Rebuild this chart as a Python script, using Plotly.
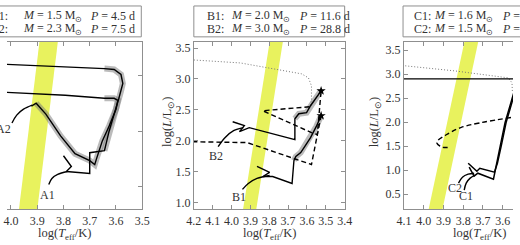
import plotly.graph_objects as go

W, H = 520, 245

# instability strip edges (same strip drawn in every panel)
strip_logL = [0.0, 4.0]
strip_blue = [3.985, 3.777]
strip_red = [3.915, 3.707]

# ---- panel A ----
a1_logT = [4.089, 3.793, 3.644, 3.607, 3.581, 3.574, 3.581, 3.589, 3.607, 3.626, 3.644, 3.700, 3.700, 3.789, 3.770, 3.800]
a1_logL = [1.605, 1.578, 1.560, 1.552, 1.507, 1.427, 1.356, 1.294, 1.152, 1.001, 0.824, 0.806, 0.620, 0.637, 0.682, 0.779]
a2_logT = [4.089, 3.793, 3.644, 3.607, 3.593, 3.600, 3.626, 3.652, 3.674, 3.681, 3.700, 3.756, 3.811, 3.867, 3.904, 3.922]
a2_logL = [1.356, 1.321, 1.294, 1.294, 1.276, 1.196, 1.046, 0.912, 0.753, 0.699, 0.735, 0.797, 0.957, 1.152, 1.250, 1.223]
a1_call_T = [3.856, 3.844, 3.822, 3.785]
a1_call_L = [0.522, 0.575, 0.611, 0.637]
a2_call_T = [3.996, 3.978, 3.952, 3.919]
a2_call_L = [1.072, 1.143, 1.196, 1.232]

# ---- panel B ----
b_dot_T = [4.2, 3.953, 3.628, 3.592, 3.576, 3.576, 3.587]
b_dot_L = [3.306, 3.258, 3.081, 3.016, 2.887, 2.645, 2.516]
b2_T = [3.994, 3.932, 3.958, 3.906, 3.664, 3.664, 3.643, 3.602, 3.581, 3.551, 3.525]
b2_L = [2.306, 2.242, 2.145, 2.210, 2.016, 2.355, 2.435, 2.452, 2.565, 2.694, 2.806]
b1_T = [3.865, 3.798, 3.834, 3.782, 3.679, 3.669, 3.659, 3.633, 3.612, 3.581, 3.551, 3.525]
b1_L = [1.581, 1.484, 1.419, 1.419, 1.306, 1.677, 1.742, 1.806, 1.903, 2.048, 2.226, 2.403]
b1_dash_T = [4.25, 3.917, 3.576, 3.525]
b1_dash_L = [1.984, 1.968, 1.613, 2.403]
b2_dash_T = [3.587, 3.834, 3.576, 3.545, 3.525]
b2_dash_L = [2.548, 2.484, 2.129, 2.097, 2.806]
b_star_T = [3.525, 3.525]
b_star_L = [2.806, 2.403]
b2_call_T = [4.071, 4.035, 3.989, 3.937]
b2_call_L = [1.903, 2.048, 2.161, 2.210]
b1_call_T = [3.942, 3.911, 3.865, 3.798]
b1_call_L = [1.210, 1.306, 1.387, 1.435]

# ---- panel C ----
c_dot_T = [4.139, 3.844, 3.573, 3.553, 3.551]
c_dot_L = [3.190, 3.066, 2.921, 2.818, 2.612]
c_hline_T = [4.15, 3.5]
c_hline_L = [2.90, 2.90]
c1_T = [3.538, 3.563, 3.588, 3.612, 3.632, 3.647, 3.726, 3.745, 3.770]
c1_L = [2.694, 2.343, 1.992, 1.517, 1.145, 0.814, 0.938, 0.876, 1.062]
c2_T = [3.533, 3.558, 3.583, 3.607, 3.627, 3.642, 3.716, 3.731, 3.775]
c2_L = [2.694, 2.343, 1.992, 1.517, 1.145, 0.959, 1.041, 0.979, 1.145]
c_dash_T = [3.558, 3.81, 3.893, 3.928, 3.933, 3.918, 3.903, 3.868]
c_dash_L = [2.095, 1.89, 1.72, 1.62, 1.56, 1.50, 1.475, 1.475]
c2_call_T = [3.824, 3.804, 3.775, 3.745]
c2_call_L = [0.731, 0.855, 0.917, 0.938]
c1_call_T = [3.795, 3.785, 3.765, 3.740]
c1_call_L = [0.587, 0.731, 0.835, 0.897]

# legend box texts
legend_rows = {
    "A": [("A1:", "1.5", "4.5"), ("A2:", "2.3", "7.5")],
    "B": [("B1:", "2.0", "11.6"), ("B2:", "3.0", "28.8")],
    "C": [("C1:", "1.6", ""), ("C2:", "1.5", "")],
}

FONT = dict(family="Liberation Serif", size=12, color="#333333")
FRAME = "#8f8f8f"
GLOW = "rgba(120,120,120,0.5)"

fig = go.Figure()


def line(xs, ys, k, width=1.4, color="black", dash="solid", shape="linear"):
    fig.add_trace(go.Scatter(x=xs, y=ys, xaxis="x" + k, yaxis="y" + k, mode="lines",
                             line=dict(color=color, width=width, dash=dash, shape=shape),
                             hoverinfo="skip"))


# strip in each panel
for k in ["", "2", "3"]:
    fig.add_trace(go.Scatter(x=strip_blue + strip_red[::-1], y=strip_logL + strip_logL[::-1],
                             xaxis="x" + k, yaxis="y" + k, mode="lines", fill="toself",
                             fillcolor="#e8f25e", line=dict(width=0), hoverinfo="skip"))

# panel A
line(a1_logT[2:11], a1_logL[2:11], "", width=6, color=GLOW)
line(a2_logT[2:15], a2_logL[2:15], "", width=6, color=GLOW)
line(a1_logT, a1_logL, "")
line(a2_logT, a2_logL, "")
line(a1_call_T, a1_call_L, "", shape="spline")
line(a2_call_T, a2_call_L, "", shape="spline")

# panel B
line(b_dot_T, b_dot_L, "2", width=1, color="#777777", dash="1px,2px")
line(b2_T[5:], b2_L[5:], "2", width=6, color=GLOW)
line(b1_T[5:], b1_L[5:], "2", width=6, color=GLOW)
line(b2_T, b2_L, "2")
line(b1_T, b1_L, "2")
line(b1_dash_T, b1_dash_L, "2", dash="5px,3px")
line(b2_dash_T, b2_dash_L, "2", dash="5px,3px")
line(b2_call_T, b2_call_L, "2", shape="spline")
line(b1_call_T, b1_call_L, "2", shape="spline")
fig.add_trace(go.Scatter(x=b_star_T, y=b_star_L, xaxis="x2", yaxis="y2", mode="markers",
                         marker=dict(symbol="star", size=7, color="black"), hoverinfo="skip"))

# panel C
line(c_dot_T, c_dot_L, "3", width=1, color="#777777", dash="1px,2px")
line(c_hline_T, c_hline_L, "3")
line(c1_T, c1_L, "3", width=1.5)
line(c2_T, c2_L, "3", width=1.5)
line(c_dash_T, c_dash_L, "3", dash="5px,3px", shape="spline")
line(c2_call_T, c2_call_L, "3", shape="spline")
line(c1_call_T, c1_call_L, "3", shape="spline")

y_dom = [36 / H, 204 / H]
ax_common = dict(ticks="inside", ticklen=4, tickcolor=FRAME, showline=True, linecolor=FRAME,
                 linewidth=1, showgrid=False, zeroline=False, tickfont=FONT)
fig.update_layout(
    width=W, height=H, margin=dict(l=0, r=0, t=0, b=0), showlegend=False,
    plot_bgcolor="white", paper_bgcolor="white", font=FONT,
    xaxis=dict(ax_common, domain=[0, 139 / W], range=[4.015, 3.5], dtick=0.1, tick0=3.5,
               tickformat=".1f", mirror="ticks", anchor="y"),
    yaxis=dict(ax_common, domain=y_dom, range=[0.3, 1.8], side="right", showticklabels=False,
               dtick=0.5, tick0=0, anchor="x"),
    xaxis2=dict(ax_common, domain=[192 / W, 347 / W], range=[4.2, 3.4], dtick=0.1, tick0=3.4,
                tickformat=".1f", mirror="ticks", anchor="y2"),
    yaxis2=dict(ax_common, domain=y_dom, range=[0.89, 3.6], dtick=0.5, tick0=0,
                tickformat=".1f", mirror="ticks", anchor="x2"),
    xaxis3=dict(ax_common, domain=[408 / W, 1], range=[4.1, 3.548], dtick=0.1, tick0=3.5,
                tickformat=".1f", mirror="ticks", anchor="y3"),
    yaxis3=dict(ax_common, domain=y_dom, range=[0.19, 3.67], dtick=0.5, tick0=0,
                tickformat=".1f", anchor="x3"),
)

ann = []
# track labels
ann.append(dict(xref="paper", yref="y", x=6 / W, y=1.019, xanchor="right", text="A2"))
ann.append(dict(xref="x", yref="y", x=3.859, y=0.424, text="A1"))
ann.append(dict(xref="x2", yref="y2", x=4.081, y=1.758, text="B2"))
ann.append(dict(xref="x2", yref="y2", x=3.963, y=1.081, text="B1"))
ann.append(dict(xref="x3", yref="y3", x=3.844, y=0.628, text="C2"))
ann.append(dict(xref="x3", yref="y3", x=3.785, y=0.463, text="C1"))

# axis titles
for xc in [59, 270, 486]:
    ann.append(dict(xref="paper", yref="paper", x=xc / W, y=11 / H, xanchor="center",
                    yanchor="middle", text="log(<i>T</i><sub>eff</sub>/K)",
                    font=dict(FONT, size=12.5)))
for xc in [165, 378]:
    ann.append(dict(xref="paper", yref="paper", x=xc / W, y=(H - 122) / H, xanchor="center",
                    yanchor="middle", textangle=-90, text="log(<i>L</i>/L<sub>⊙</sub>)",
                    font=dict(FONT, size=12.5)))

# legend boxes
boxes = {"A": (-40, 138, 3, 14, 83), "B": (192, 347, 203, 228, 298), "C": (407, 560, 416, 437, 507)}
shapes = []
for key, (x0, x1, xl, xm, xp) in boxes.items():
    shapes.append(dict(type="rect", xref="paper", yref="paper", x0=x0 / W, x1=x1 / W,
                       y0=(H - 36) / H, y1=(H - 5) / H, line=dict(color=FRAME, width=1)))
    for (lab, m, p), yr in zip(legend_rows[key], [15, 28]):
        yy = (H - yr) / H
        ann.append(dict(xref="paper", yref="paper", x=xl / W, y=yy,
                        xanchor="right" if key == "A" else "left", yanchor="middle", text=lab))
        ann.append(dict(xref="paper", yref="paper", x=xm / W, y=yy, xanchor="left",
                        yanchor="middle", text="<i>M</i> = %s M<sub>⊙</sub>" % m))
        ptxt = "<i>P</i> = %s d" % p if p else "<i>P</i> ="
        ann.append(dict(xref="paper", yref="paper", x=xp / W, y=yy, xanchor="left",
                        yanchor="middle", text=ptxt))

for a in ann:
    a.setdefault("showarrow", False)
    a.setdefault("font", FONT)
fig.update_layout(annotations=ann, shapes=shapes)

# drop the default page margin so the figure sits at the window corner
fig.write_html("out.html", config={"displayModeBar": False},
               post_script="document.body.style.margin='0';")
